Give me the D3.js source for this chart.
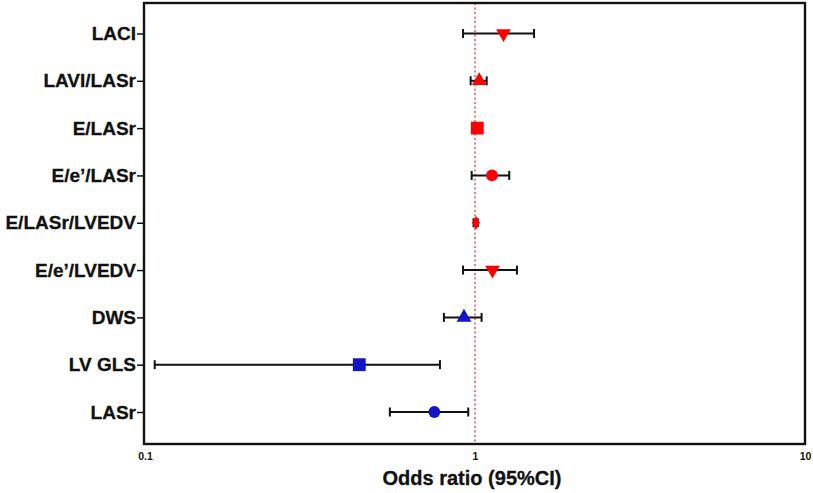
<html>
<head>
<title>Odds ratio forest plot</title>
<style>
  body { margin: 0; background: #fff; }
  text { font-family: "Liberation Sans", Arial, sans-serif; font-weight: bold; }
</style>
</head>
<body>
<div id="viz"></div>
<script src="https://d3js.org/d3.v7.min.js"></script>
<script>
// data
var labels = ["LACI", "LAVI/LASr", "E/LASr", "E/e\u2019/LASr", "E/LASr/LVEDV", "E/e\u2019/LVEDV", "DWS", "LV GLS", "LASr"];
var oddsRatio = [1.22, 1.03, 1.016, 1.126, 1.007, 1.13, 0.926, 0.446, 0.753];
var ciLower = [0.92, 0.97, 1.00, 0.977, 0.99, 0.92, 0.805, 0.107, 0.552];
var ciUpper = [1.51, 1.085, 1.03, 1.27, 1.02, 1.34, 1.047, 0.783, 0.954];
var groups = ["up", "up", "up", "up", "up", "up", "down", "down", "down"];
var shapes = ["triDown", "triUp", "square", "circle", "diamond", "triDown", "triUp", "square", "circle"];
var xTicks = [0.1, 1, 10];

var width = 813, height = 493;
var mLeft = 144, mRight = 805, mTop = 3, mBottom = 444;

var svg = d3.select("#viz").append("svg")
    .attr("width", width)
    .attr("height", height);

var x = d3.scaleLog().domain([0.1, 10]).range([mLeft + 1, mRight]);
var y = d3.scalePoint().domain(labels).range([33.5, 412]);

var colour = { up: "#ff0000", down: "#1414c8" };
var symType = {
    triDown: d3.symbolTriangle, triUp: d3.symbolTriangle,
    square: d3.symbolSquare, circle: d3.symbolCircle, diamond: d3.symbolDiamond
};
var symSize = { triDown: 95, triUp: 95, square: 165, circle: 110, diamond: 55 };

var rows = labels.map(function (l, i) {
    return { label: l, or: oddsRatio[i], lo: ciLower[i], hi: ciUpper[i], g: groups[i], s: shapes[i] };
});

// reference line at 1
svg.append("line")
    .attr("x1", x(1)).attr("x2", x(1))
    .attr("y1", mTop).attr("y2", mBottom)
    .attr("stroke", "#e8474a")
    .attr("stroke-width", 1.4)
    .attr("stroke-dasharray", "2,2.5");

// error bars
var bars = svg.selectAll("g.bar").data(rows).enter().append("g").attr("class", "bar");
bars.append("line")
    .attr("x1", function (d) { return x(d.lo); })
    .attr("x2", function (d) { return x(d.hi); })
    .attr("y1", function (d) { return y(d.label); })
    .attr("y2", function (d) { return y(d.label); })
    .attr("stroke", "#111").attr("stroke-width", 2);
bars.selectAll("line.cap")
    .data(function (d) { return [{ v: d.lo, label: d.label }, { v: d.hi, label: d.label }]; })
    .enter().append("line").attr("class", "cap")
    .attr("x1", function (d) { return x(d.v); })
    .attr("x2", function (d) { return x(d.v); })
    .attr("y1", function (d) { return y(d.label) - 4.5; })
    .attr("y2", function (d) { return y(d.label) + 4.5; })
    .attr("stroke", "#111").attr("stroke-width", 2);

// markers
svg.selectAll("path.pt").data(rows).enter().append("path")
    .attr("class", "pt")
    .attr("d", function (d) { return d3.symbol().type(symType[d.s]).size(symSize[d.s])(); })
    .attr("transform", function (d) {
        var t = "translate(" + x(d.or) + "," + y(d.label) + ")";
        return d.s === "triDown" ? t + " rotate(180)" : t;
    })
    .attr("fill", function (d) { return colour[d.g]; });

// frame
svg.append("rect")
    .attr("x", mLeft).attr("y", mTop)
    .attr("width", mRight - mLeft).attr("height", mBottom - mTop)
    .attr("fill", "none").attr("stroke", "#111").attr("stroke-width", 2.4);

// axes
var yAxis = svg.append("g")
    .attr("transform", "translate(" + mLeft + ",0)")
    .call(d3.axisLeft(y).tickSize(7).tickPadding(1));
yAxis.select(".domain").remove();
yAxis.selectAll("line").attr("stroke", "#111").attr("stroke-width", 1.5);
yAxis.selectAll("text").attr("font-size", 19).attr("fill", "#111")
    .attr("stroke", "#111").attr("stroke-width", 0.3);

var xAxis = svg.append("g")
    .attr("transform", "translate(0," + mBottom + ")")
    .call(d3.axisBottom(x).tickValues(xTicks).tickFormat(d3.format("")).tickSize(0).tickPadding(9));
xAxis.select(".domain").remove();
xAxis.selectAll("text").attr("font-size", 10.5).attr("fill", "#111");

svg.append("text")
    .attr("x", 472).attr("y", 485)
    .attr("text-anchor", "middle")
    .attr("font-size", 20)
    .attr("fill", "#111")
    .attr("stroke", "#111").attr("stroke-width", 0.3)
    .text("Odds ratio (95%CI)");
</script>
</body>
</html>
